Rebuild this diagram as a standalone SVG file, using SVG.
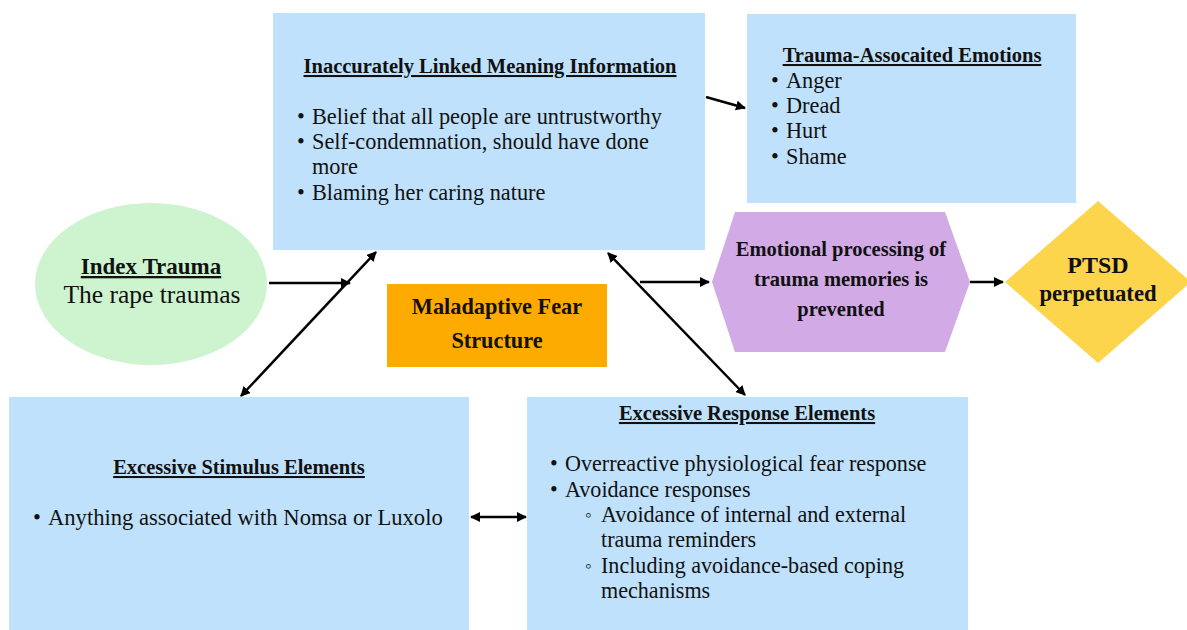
<svg xmlns="http://www.w3.org/2000/svg" width="1187" height="630" viewBox="0 0 1187 630">
<defs>
<marker id="ah" viewBox="0 0 10 10" refX="9" refY="5" markerWidth="4" markerHeight="4" orient="auto-start-reverse" markerUnits="strokeWidth">
<path d="M0,0 L10,5 L0,10 z" fill="#000"/>
</marker>
</defs>
<style>
.box{fill:#bfe1fb}
text{font-family:'Liberation Serif','Times New Roman',serif;fill:#111}
.h{font-weight:bold;font-size:20.5px;text-decoration:underline}
.b{font-size:22.3px}
.bb{font-weight:bold}
.sb{font-size:19px}
.c{stroke:#000;stroke-width:2.5;fill:none}
</style>
<rect width="1187" height="630" fill="#fff"/>
<g id="meaning">
<rect class="box" x="273" y="13" width="432" height="237"/>
<text class="h" x="490" y="73" text-anchor="middle">Inaccurately Linked Meaning Information</text>
<text class="b"><tspan x="297" y="124">•</tspan><tspan x="312">Belief that all people are untrustworthy</tspan><tspan x="297" y="149">•</tspan><tspan x="312">Self-condemnation, should have done</tspan><tspan x="312" y="174">more</tspan><tspan x="297" y="200">•</tspan><tspan x="312">Blaming her caring nature</tspan></text>
</g>
<g id="emotions">
<rect class="box" x="747" y="14" width="329" height="189"/>
<text class="h" x="912" y="62" text-anchor="middle">Trauma-Assocaited Emotions</text>
<text class="b"><tspan x="771" y="88">•</tspan><tspan x="786">Anger</tspan><tspan x="771" y="113">•</tspan><tspan x="786">Dread</tspan><tspan x="771" y="138">•</tspan><tspan x="786">Hurt</tspan><tspan x="771" y="164">•</tspan><tspan x="786">Shame</tspan></text>
</g>
<g id="index">
<ellipse cx="151" cy="284" rx="116" ry="81" fill="#cdf3cf"/>
<text class="h" x="151" y="274" text-anchor="middle" style="font-size:23px">Index Trauma</text>
<text x="152" y="303" text-anchor="middle" style="font-size:25.5px">The rape traumas</text>
</g>
<g id="fear">
<rect x="387" y="284" width="220" height="83" fill="#fdab00"/>
<text class="bb" x="497" y="314" text-anchor="middle" style="font-size:22.3px">Maladaptive Fear</text>
<text class="bb" x="497" y="348" text-anchor="middle" style="font-size:22.3px">Structure</text>
</g>
<g id="processing">
<polygon points="712,282 735,212 945,212 970,282 945,352 735,352" fill="#d2aae6"/>
<text class="bb" x="841" y="256" text-anchor="middle" style="font-size:20.5px">Emotional processing of</text>
<text class="bb" x="841" y="286" text-anchor="middle" style="font-size:20.5px">trauma memories is</text>
<text class="bb" x="841" y="316" text-anchor="middle" style="font-size:20.5px">prevented</text>
</g>
<g id="ptsd">
<polygon points="1005,282 1098,201 1191,282 1098,363" fill="#fcd54c"/>
<text class="bb" x="1098" y="273" text-anchor="middle" style="font-size:24px">PTSD</text>
<text class="bb" x="1098" y="301" text-anchor="middle" style="font-size:22.7px">perpetuated</text>
</g>
<g id="stimulus">
<rect class="box" x="9" y="397" width="460" height="233"/>
<text class="h" x="239" y="474" text-anchor="middle">Excessive Stimulus Elements </text>
<text class="b" style="font-size:22.6px"><tspan x="33" y="525">•</tspan><tspan x="48">Anything associated with Nomsa or Luxolo</tspan></text>
</g>
<g id="response">
<rect class="box" x="527" y="397" width="441" height="233"/>
<text class="h" x="747" y="420" text-anchor="middle">Excessive Response Elements </text>
<text class="b" style="font-size:22.1px"><tspan x="550" y="471">•</tspan><tspan x="565">Overreactive physiological fear response</tspan><tspan x="550" y="497">•</tspan><tspan x="565">Avoidance responses</tspan><tspan x="601" y="522">Avoidance of internal and external</tspan><tspan x="601" y="547">trauma reminders</tspan><tspan x="601" y="573">Including avoidance-based coping</tspan><tspan x="601" y="598">mechanisms</tspan></text>
<text class="sb"><tspan x="585" y="521">◦</tspan><tspan x="585" y="572">◦</tspan></text>
</g>
<g id="connectors">
<line class="c" x1="269" y1="283" x2="350" y2="283" marker-end="url(#ah)"/>
<line class="c" x1="241" y1="396" x2="376" y2="252" marker-start="url(#ah)" marker-end="url(#ah)"/>
<line class="c" x1="706" y1="97" x2="745" y2="108" marker-end="url(#ah)"/>
<line class="c" x1="640" y1="282" x2="709" y2="282" marker-end="url(#ah)"/>
<line class="c" x1="970" y1="282" x2="1003" y2="282" marker-end="url(#ah)"/>
<line class="c" x1="608" y1="253" x2="745" y2="395" marker-start="url(#ah)" marker-end="url(#ah)"/>
<line class="c" x1="471" y1="517" x2="526" y2="517" marker-start="url(#ah)" marker-end="url(#ah)"/>
</g>
</svg>
